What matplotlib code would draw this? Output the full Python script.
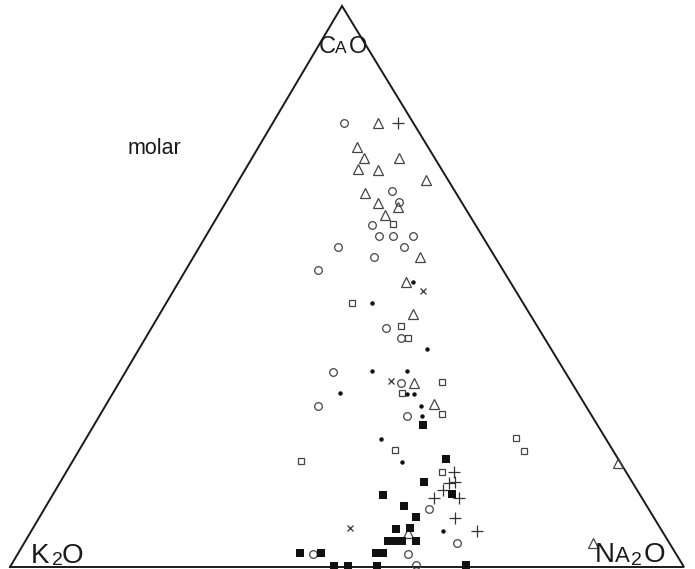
import matplotlib
matplotlib.use("Agg")
import numpy as np
import matplotlib.pyplot as plt

# molar proportions (%); K2O = 100 - CaO - Na2O
circle_cao = [79.1, 65.1, 67.0, 61.0, 59.0, 59.0, 59.0, 57.0, 57.0, 55.3, 52.9,
              42.6, 40.8, 34.8, 32.8, 28.7, 26.9, 10.3, 4.3, 2.3, 2.3, 0.4]
circle_na2o = [10.6, 25.7, 23.7, 23.7, 25.7, 27.8, 30.7, 20.6, 30.4, 26.8, 19.6,
               34.8, 37.9, 30.8, 41.9, 31.6, 45.6, 57.1, 64.2, 43.8, 57.9, 60.1]

triangle_cao = [79.1, 74.9, 72.9, 72.9, 70.9, 70.8, 69.0, 66.7, 64.9, 64.2,
                62.7, 55.3, 50.8, 45.1, 32.8, 29.1, 6.1, 18.5, 4.3]
triangle_na2o = [15.6, 14.6, 16.6, 21.8, 16.7, 19.7, 27.7, 19.8, 22.6, 26.0,
                 24.7, 33.6, 33.7, 37.6, 43.8, 48.6, 56.1, 81.1, 84.4]

plus_cao = [79.1, 16.9, 15.0, 15.2, 13.7, 12.3, 12.3, 8.7, 6.4]
plus_na2o = [18.6, 57.5, 57.8, 58.6, 57.5, 60.6, 56.9, 61.7, 66.1]

cross_cao = [49.2, 33.2, 7.0]
cross_na2o = [37.0, 40.2, 47.0]

dot_cao = [50.8, 47.1, 38.9, 34.9, 34.9, 31.0, 30.8, 30.8, 28.7, 26.9, 22.8,
           18.7, 6.4]
dot_na2o = [34.8, 30.5, 42.7, 36.5, 41.7, 33.7, 43.7, 44.7, 46.8, 47.9, 43.8,
            48.9, 61.1]

opensq_cao = [61.1, 47.1, 43.0, 40.8, 33.0, 31.0, 27.3, 20.9, 18.9, 16.9,
              23.0, 20.7]
opensq_na2o = [26.7, 27.6, 36.9, 38.9, 47.8, 42.9, 50.7, 46.9, 33.9, 55.8,
               63.8, 66.1]

fillsq_cao = [25.3, 19.3, 15.2, 13.0, 12.8, 10.9, 8.9, 6.8, 7.0, 4.6, 4.6,
              4.6, 4.6, 2.5, 2.5, 2.5, 2.5, 0.2, 0.2, 0.2, 0.4]
fillsq_na2o = [48.8, 55.2, 54.0, 59.2, 49.0, 53.1, 55.8, 53.9, 55.9, 53.8,
               54.8, 55.9, 58.0, 41.8, 44.9, 53.1, 54.1, 47.9, 50.1, 54.4, 67.5]

# shape of the printed triangle (apex slightly left of centre, a bit flat)
APEX_X = 0.4926
HEIGHT = 0.8323


def to_xy(cao, na2o):
    """ternary percentages -> cartesian coords of the diagram"""
    c = np.asarray(cao, dtype=float) / 100.
    n = np.asarray(na2o, dtype=float) / 100.
    return n + c * APEX_X, c * HEIGHT


plt.rcParams['font.family'] = ['Liberation Sans', 'DejaVu Sans']

fig = plt.figure(figsize=(6.95, 5.69), dpi=100)
ax = fig.add_axes([0, 0, 1, 1])
ax.set_xlim(-0.01484, 1.01632)
ax.set_ylim(-0.00297, 0.8412)
ax.axis('off')

# frame of the diagram
fx, fy = to_xy([0, 0, 100, 0], [0, 100, 0, 0])
ax.plot(fx, fy, color='#1a1a1a', lw=1.4, solid_joinstyle='miter', zorder=1)

grey = '#444444'
x, y = to_xy(circle_cao, circle_na2o)
ax.plot(x, y, 'o', ms=5.5, mfc='none', mec=grey, mew=0.9, clip_on=False)
x, y = to_xy(triangle_cao, triangle_na2o)
ax.plot(x, y, '^', ms=6.5, mfc='none', mec=grey, mew=0.9, clip_on=False)
x, y = to_xy(opensq_cao, opensq_na2o)
ax.plot(x, y, 's', ms=4.8, mfc='none', mec=grey, mew=0.9, clip_on=False)
x, y = to_xy(plus_cao, plus_na2o)
ax.plot(x, y, '+', ms=8, mec='#333333', mew=0.9, clip_on=False)
x, y = to_xy(cross_cao, cross_na2o)
ax.plot(x, y, 'x', ms=5, mec='#333333', mew=0.9, clip_on=False)
x, y = to_xy(dot_cao, dot_na2o)
ax.plot(x, y, 'o', ms=3.2, mfc='#111111', mec='#111111', mew=0, clip_on=False)
x, y = to_xy(fillsq_cao, fillsq_na2o)
ax.plot(x, y, 's', ms=5.8, mfc='#111111', mec='#111111', mew=0, clip_on=False)


def corner_label(vertex, parts):
    """write a label piece by piece: (text, size, dx px, dy px)"""
    vx, vy = to_xy(*vertex)
    for txt, size, dx, dy in parts:
        ax.annotate(txt, xy=(float(vx), float(vy)), xytext=(dx, dy),
                    textcoords='offset pixels', fontsize=size,
                    ha='left', va='baseline', color='#1a1a1a')


corner_label((100, 0), [('C', 17, -23, -47), ('A', 12.5, -7, -47),
                        ('O', 17, 7, -47)])
corner_label((0, 0), [('K', 20, 21, 4), ('2', 14, 42, 2), ('O', 20, 52, 4)])
corner_label((0, 100), [('N', 20, -89, 5), ('A', 16, -69, 5),
                        ('2', 14, -53, 2), ('O', 20, -40, 5)])

ax.text(0.175, 0.613, 'molar', fontsize=15.5, color='#1a1a1a',
        ha='left', va='baseline', transform=ax.transData)

fig.savefig('out.png', dpi=100)
